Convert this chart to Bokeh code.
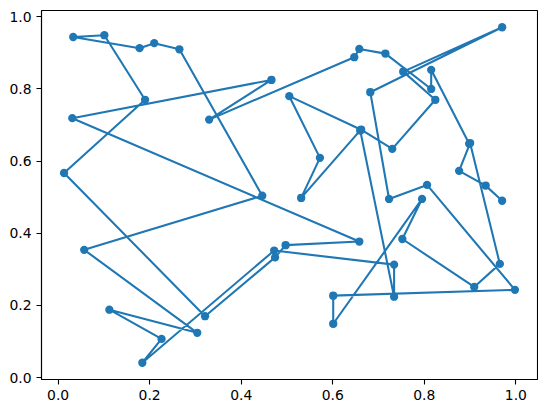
from bokeh.plotting import figure
from bokeh.models import ColumnDataSource, Range1d, FixedTicker, PrintfTickFormatter
from bokeh.embed import file_html
from bokeh.resources import INLINE

# Path of points, in drawing order
xs = [0.970, 0.934, 0.876, 0.900, 0.965, 0.909, 0.752, 0.795, 0.601, 0.601,
      0.998, 0.806, 0.723, 0.682, 0.970, 0.754, 0.824, 0.730, 0.662, 0.505,
      0.572, 0.531, 0.660, 0.734, 0.734, 0.472, 0.184, 0.226, 0.112, 0.304,
      0.057, 0.446, 0.265, 0.210, 0.178, 0.033, 0.101, 0.190, 0.013, 0.321,
      0.474, 0.497, 0.658, 0.031, 0.466, 0.330, 0.647, 0.658, 0.715, 0.815,
      0.815, 0.898]
ys = [0.490, 0.532, 0.573, 0.650, 0.315, 0.251, 0.384, 0.495, 0.149, 0.227,
      0.243, 0.534, 0.495, 0.791, 0.971, 0.848, 0.770, 0.634, 0.687, 0.780,
      0.609, 0.498, 0.685, 0.224, 0.313, 0.352, 0.041, 0.107, 0.188, 0.124,
      0.354, 0.504, 0.910, 0.927, 0.913, 0.944, 0.949, 0.770, 0.567, 0.170,
      0.333, 0.367, 0.377, 0.719, 0.825, 0.715, 0.888, 0.911, 0.898, 0.800,
      0.853, 0.648]
tick_values = [0.0, 0.2, 0.4, 0.6, 0.8, 1.0]

src = ColumnDataSource(data=dict(x=xs, y=ys))

xspan = max(xs) - min(xs)
yspan = max(ys) - min(ys)

p = figure(output_backend="svg", toolbar_location=None,
           frame_width=496, frame_height=369,
           min_border_left=41, min_border_right=1,
           min_border_top=10, min_border_bottom=25,
           x_range=Range1d(min(xs) - 0.05 * xspan, max(xs) + 0.05 * xspan),
           y_range=Range1d(min(ys) - 0.05 * yspan, max(ys) + 0.05 * yspan))

p.xgrid.visible = False
p.ygrid.visible = False
p.outline_line_color = "black"
p.outline_line_width = 1.1
p.outline_line_alpha = 1.0
p.background_fill_color = "white"
p.border_fill_color = "white"

for ax in (p.xaxis[0], p.yaxis[0]):
    ax.ticker = FixedTicker(ticks=tick_values)
    ax.formatter = PrintfTickFormatter(format="%.1f")
    ax.minor_tick_line_color = None
    ax.major_tick_in = 0
    ax.major_tick_out = 5
    ax.major_tick_line_width = 1.1
    ax.major_tick_line_color = "black"
    ax.axis_line_color = "black"
    ax.axis_line_width = 1.1
    ax.major_label_text_font = "DejaVu Sans"
    ax.major_label_text_font_size = "13.9px"
    ax.major_label_text_color = "black"
    ax.major_label_standoff = 5

color = "#1f77b4"
p.line("x", "y", source=src, line_color=color, line_width=2.08)
p.scatter("x", "y", source=src, size=8.3, fill_color=color, line_color=color, line_width=0)

open("out.html", "w").write(file_html(p, INLINE))
